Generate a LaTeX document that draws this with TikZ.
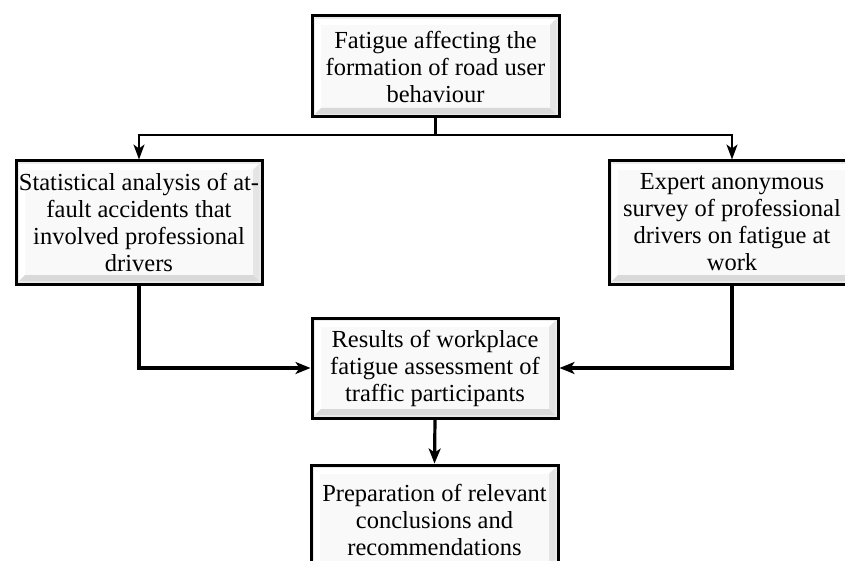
\documentclass[tikz,border=0pt]{standalone}
\usepackage{fontspec}
\setmainfont{Liberation Serif}
\usetikzlibrary{arrows.meta}
\tikzset{
  bevelbox/.style={rectangle, draw=black, line width=3pt, fill=gray!16,
    align=center, inner sep=0pt, font=\fontsize{24.5}{27}\selectfont,
    path picture={
      \fill[gray!5] ([shift={(9pt,-9pt)}]path picture bounding box.north west) rectangle ([shift={(-9pt,9pt)}]path picture bounding box.south east);
      \fill[white] ([shift={(3pt,-3pt)}]path picture bounding box.north west) -- ([shift={(-3pt,-3pt)}]path picture bounding box.north east) -- ([shift={(-9pt,-9pt)}]path picture bounding box.north east) -- ([shift={(9pt,-9pt)}]path picture bounding box.north west) -- cycle;
      \fill[white] ([shift={(3pt,-3pt)}]path picture bounding box.north west) -- ([shift={(3pt,3pt)}]path picture bounding box.south west) -- ([shift={(9pt,9pt)}]path picture bounding box.south west) -- ([shift={(9pt,-9pt)}]path picture bounding box.north west) -- cycle;
      \fill[gray!30] ([shift={(3pt,3pt)}]path picture bounding box.south west) -- ([shift={(-3pt,3pt)}]path picture bounding box.south east) -- ([shift={(-9pt,9pt)}]path picture bounding box.south east) -- ([shift={(9pt,9pt)}]path picture bounding box.south west) -- cycle;
      \fill[gray!20] ([shift={(-3pt,-3pt)}]path picture bounding box.north east) -- ([shift={(-3pt,3pt)}]path picture bounding box.south east) -- ([shift={(-9pt,9pt)}]path picture bounding box.south east) -- ([shift={(-9pt,-9pt)}]path picture bounding box.north east) -- cycle;
    }},
  conn/.style={line width=2.1pt, draw=black},
  arr/.style={conn, -{Stealth[length=15pt,width=11pt,inset=4pt]}},
  arrthick/.style={line width=3.2pt, draw=black, -{Stealth[length=15pt,width=12pt,inset=4pt]}}
}
\begin{document}
\begin{tikzpicture}[x=1pt,y=-1pt]
\useasboundingbox (0,0) rectangle (845,561);
\begin{scope}
\clip (0,0) rectangle (845,561);
\node[bevelbox, minimum width=247pt, minimum height=101pt] (top) at (435.5,66.5)
  {Fatigue affecting the\\formation of road user\\behaviour};
\node[bevelbox, minimum width=246pt, minimum height=123pt] (left) at (139,222.5)
  {Statistical analysis of at-\\fault accidents that\\involved professional\\drivers};
\node[bevelbox, minimum width=246pt, minimum height=123pt] (right) at (732,222.5)
  {Expert anonymous\\survey of professional\\drivers on fatigue at\\work};
\node[bevelbox, minimum width=246pt, minimum height=100pt] (mid) at (435,368)
  {Results of workplace\\fatigue assessment of\\traffic participants};
\node[bevelbox, minimum width=247pt, minimum height=110pt] (bot) at (434.5,520)
  {Preparation of relevant\\conclusions and\\recommendations};
\end{scope}
\coordinate (j) at (435.5,135);
\draw[conn] (top.south) -- (j);
\draw[arr] (j) -| (left.north);
\draw[arr] (j) -| (right.north);
\draw[arrthick] (left.south) |- (mid.west);
\draw[arrthick] (right.south) |- (mid.east);
\draw[arrthick] (mid.south) -- (bot.north);
\end{tikzpicture}
\end{document}
